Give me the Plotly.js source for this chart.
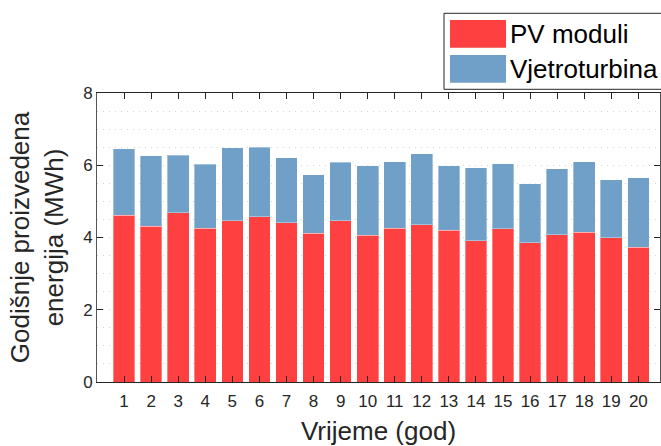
<!DOCTYPE html>
<html>
<head>
<meta charset="utf-8">
<script src="https://cdn.plot.ly/plotly-3.0.1.min.js"></script>
<style>html,body{margin:0;padding:0;background:#fff;}#chart{width:661px;height:446px;}</style>
</head>
<body>
<div id="chart"></div>
<script>
const years = [1,2,3,4,5,6,7,8,9,10,11,12,13,14,15,16,17,18,19,20];
const pvModuli = [4.62,4.31,4.69,4.25,4.47,4.58,4.41,4.12,4.47,4.06,4.25,4.35,4.20,3.91,4.24,3.86,4.07,4.15,4.00,3.73];
const vjetroturbina = [1.84,1.95,1.59,1.78,2.02,1.92,1.80,1.62,1.61,1.93,1.85,1.97,1.79,2.02,1.80,1.63,1.83,1.95,1.60,1.92];
const seriesNames = ['PV moduli','Vjetroturbina'];
const seriesColors = ['#ff4040','#70a0c8'];
const yTicks = [0,2,4,6,8];

const font = 'Liberation Sans, Arial, sans-serif';
const L = 97, R = 660, T = 93, B = 382;
const px = x => (x - L) / (R - L);
const py = y => (B - y) / (B - T);

const traces = [
  {type:'bar', x: years, y: pvModuli, name: seriesNames[0], width: 0.8,
   marker:{color: seriesColors[0], line:{color:'rgba(255,255,255,0.35)', width:1}}},
  {type:'bar', x: years, y: vjetroturbina, name: seriesNames[1], width: 0.8,
   marker:{color: seriesColors[1], line:{color:'rgba(255,255,255,0.35)', width:1}}}
];

const gridStyle = {gridcolor: '#d4d4d4', griddash: '1px,5px', gridwidth: 1};

const layout = {
  width: 661, height: 446,
  margin: {l: L, r: 661 - R, t: T, b: 446 - B},
  paper_bgcolor: '#fff', plot_bgcolor: '#fff',
  barmode: 'stack',
  showlegend: false,
  font: {family: font, color: '#262626', size: 17},
  xaxis: {
    range: [0, 20.8], tickvals: years, ticktext: years.map(String),
    ticks: 'inside', ticklen: 6, tickcolor: '#262626', mirror: 'ticks',
    showline: true, linecolor: '#262626', linewidth: 1,
    showgrid: false, zeroline: false,
    ticklabelstandoff: 4,
    tickfont: {size: 17, color: '#262626'},
    title: {text: 'Vrijeme (god)', font: {size: 26, color: '#262626'}, standoff: 14}
  },
  yaxis: Object.assign({
    range: [0, 8], tickvals: yTicks,
    ticks: 'inside', ticklen: 6, tickcolor: '#262626', mirror: 'ticks',
    showline: true, linecolor: '#555', linewidth: 1,
    showgrid: true,
    minor: Object.assign({dtick: 0.5, showgrid: true, ticks: ''}, gridStyle),
    zeroline: false,
    tickfont: {size: 17, color: '#262626'},
    title: {text: 'Godišnje proizvedena<br>energija (MWh)', font: {size: 26, color: '#262626'}, standoff: 12}
  }, gridStyle),
  shapes: [
    {type:'rect', xref:'paper', yref:'paper', x0: px(444), x1: px(675), y0: py(89.3), y1: py(13.3),
     line:{color:'#262626', width:1}, fillcolor:'#fff', layer:'above'},
    {type:'rect', xref:'paper', yref:'paper', x0: px(450), x1: px(506), y0: py(47.7), y1: py(20),
     line:{width:0}, fillcolor: seriesColors[0], layer:'above'},
    {type:'rect', xref:'paper', yref:'paper', x0: px(450), x1: px(506), y0: py(82.7), y1: py(55),
     line:{width:0}, fillcolor: seriesColors[1], layer:'above'}
  ],
  annotations: [
    {xref:'paper', yref:'paper', x: px(508), y: py(34), xanchor:'left', yanchor:'middle',
     text: seriesNames[0], showarrow:false, font:{size:26, color:'#000', family: font}},
    {xref:'paper', yref:'paper', x: px(508), y: py(69), xanchor:'left', yanchor:'middle',
     text: seriesNames[1], showarrow:false, font:{size:26, color:'#000', family: font}}
  ]
};

Plotly.newPlot('chart', traces, layout, {displayModeBar: false, staticPlot: true});
</script>
</body>
</html>
